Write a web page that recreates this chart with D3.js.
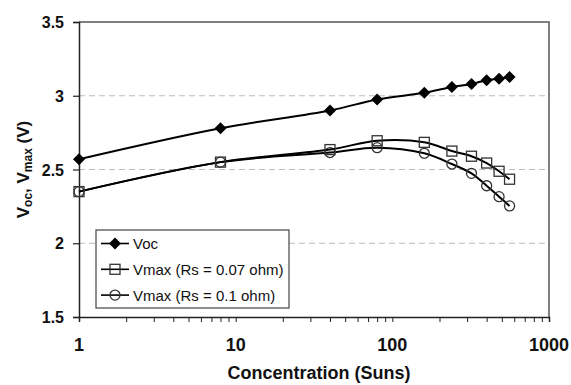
<!DOCTYPE html>
<html>
<head>
<meta charset="utf-8">
<script src="https://cdn.jsdelivr.net/npm/d3@7"></script>
<style>
  html, body { margin: 0; padding: 0; background: #fff; }
  svg { display: block; font-family: "Liberation Sans", Arial, sans-serif; }
</style>
</head>
<body>
<svg id="chart" width="571" height="385"></svg>
<script>
// Concentration levels (Suns)
const suns = [1, 8, 40, 80, 160, 240, 320, 400, 480, 560];
// Open-circuit voltage
const voc = [2.57, 2.78, 2.90, 2.975, 3.02, 3.06, 3.08, 3.105, 3.115, 3.127];
// Max-power voltage, Rs = 0.07 ohm
const vmax007 = [2.35, 2.55, 2.635, 2.695, 2.684, 2.625, 2.59, 2.544, 2.488, 2.434];
// Max-power voltage, Rs = 0.1 ohm
const vmax01 = [2.35, 2.55, 2.615, 2.648, 2.61, 2.537, 2.474, 2.39, 2.316, 2.253];

const xTicks = [1, 10, 100, 1000];
const yTicks = [1.5, 2, 2.5, 3, 3.5];
const gridValues = [2, 2.5, 3];

const series = [
  { name: "Voc", values: voc, marker: "diamond" },
  { name: "Vmax (Rs = 0.07 ohm)", values: vmax007, marker: "square" },
  { name: "Vmax (Rs = 0.1 ohm)", values: vmax01, marker: "circle" }
];

const svg = d3.select("#chart");
const m = { left: 79, right: 549, top: 22, bottom: 317 };

const x = d3.scaleLog().domain([1, 1000]).range([m.left, m.right]);
const y = d3.scaleLinear().domain([1.5, 3.5]).range([m.bottom, m.top]);

// dashed gridlines
svg.append("g").selectAll("line").data(gridValues).join("line")
  .attr("x1", m.left).attr("x2", m.right)
  .attr("y1", d => y(d)).attr("y2", d => y(d))
  .attr("stroke", "#bdbdbd").attr("stroke-width", 1.2)
  .attr("stroke-dasharray", "6,4");

// plot frame (top and right)
svg.append("path")
  .attr("d", `M${m.left},${m.top}H${m.right}V${m.bottom}`)
  .attr("fill", "none").attr("stroke", "#555").attr("stroke-width", 1.5);

// x axis with minor ticks
const minor = [];
for (let e = 0; e < 3; e++) for (let k = 1; k <= 9; k++) minor.push(k * Math.pow(10, e));
minor.push(1000);
const xAxis = d3.axisBottom(x).tickValues(minor).tickSize(5).tickFormat("");
const gx = svg.append("g").attr("transform", `translate(0,${m.bottom})`).call(xAxis);
gx.select(".domain").attr("stroke", "#222").attr("stroke-width", 1.5);
gx.selectAll(".tick line").attr("stroke", "#222").attr("stroke-width", 1);

svg.append("g").selectAll("text").data(xTicks).join("text")
  .attr("x", d => x(d)).attr("y", 351)
  .attr("text-anchor", "middle")
  .attr("font-size", 18).attr("font-weight", "bold").attr("fill", "#111")
  .text(d => d);

// y axis
const yAxis = d3.axisLeft(y).tickValues(yTicks).tickSize(6).tickFormat("");
const gy = svg.append("g").attr("transform", `translate(${m.left},0)`).call(yAxis);
gy.select(".domain").attr("stroke", "#222").attr("stroke-width", 1.5);
gy.selectAll(".tick line").attr("stroke", "#222").attr("stroke-width", 1.2);

svg.append("g").selectAll("text").data(yTicks).join("text")
  .attr("x", 64).attr("y", d => y(d) + 6)
  .attr("text-anchor", "end")
  .attr("font-size", 16).attr("font-weight", "bold").attr("fill", "#111")
  .text(d => d);

// axis titles
svg.append("text")
  .attr("x", 319).attr("y", 379)
  .attr("text-anchor", "middle")
  .attr("font-size", 18).attr("font-weight", "bold").attr("fill", "#111")
  .text("Concentration (Suns)");

const yt = svg.append("text")
  .attr("transform", `translate(28.5,${(m.top + m.bottom) / 2}) rotate(-90)`)
  .attr("text-anchor", "middle")
  .attr("font-size", 17).attr("font-weight", "bold").attr("fill", "#111");
yt.append("tspan").text("V");
yt.append("tspan").attr("font-size", 12).attr("dy", 3).text("oc");
yt.append("tspan").attr("dy", -3).text(", V");
yt.append("tspan").attr("font-size", 12).attr("dy", 3).text("max");
yt.append("tspan").attr("dy", -3).text(" (V)");

// markers
function drawMarker(g, type, cx, cy) {
  if (type === "diamond") {
    g.append("path")
      .attr("d", `M${cx},${cy - 6}L${cx + 6},${cy}L${cx},${cy + 6}L${cx - 6},${cy}Z`)
      .attr("fill", "#000");
  } else if (type === "square") {
    g.append("rect")
      .attr("x", cx - 5).attr("y", cy - 5).attr("width", 10).attr("height", 10)
      .attr("fill", "none").attr("stroke", "#333").attr("stroke-width", 1.3);
  } else {
    g.append("circle")
      .attr("cx", cx).attr("cy", cy).attr("r", 5)
      .attr("fill", "none").attr("stroke", "#333").attr("stroke-width", 1.3);
  }
}

const line = d3.line()
  .x((d, i) => x(suns[i]))
  .y(d => y(d))
  .curve(d3.curveCatmullRom.alpha(0.5));

// draw in reverse so the Voc series sits on top
series.slice().reverse().forEach(s => {
  const g = svg.append("g");
  g.append("path").datum(s.values)
    .attr("d", line)
    .attr("fill", "none").attr("stroke", "#000").attr("stroke-width", 2);
  s.values.forEach((v, i) => drawMarker(g, s.marker, x(suns[i]), y(v)));
});

// legend
const lg = svg.append("g");
lg.append("rect")
  .attr("x", 96).attr("y", 230).attr("width", 193).attr("height", 78)
  .attr("fill", "#fff").attr("stroke", "#444").attr("stroke-width", 1.2);
series.forEach((s, i) => {
  const cy = 243.5 + i * 25.8;
  lg.append("line").attr("x1", 101).attr("x2", 129).attr("y1", cy).attr("y2", cy)
    .attr("stroke", "#000").attr("stroke-width", 1.6);
  drawMarker(lg, s.marker, 115, cy);
  lg.append("text").attr("x", 133).attr("y", cy + 5.5)
    .attr("font-size", 15).attr("fill", "#111").text(s.name);
});
</script>
</body>
</html>
